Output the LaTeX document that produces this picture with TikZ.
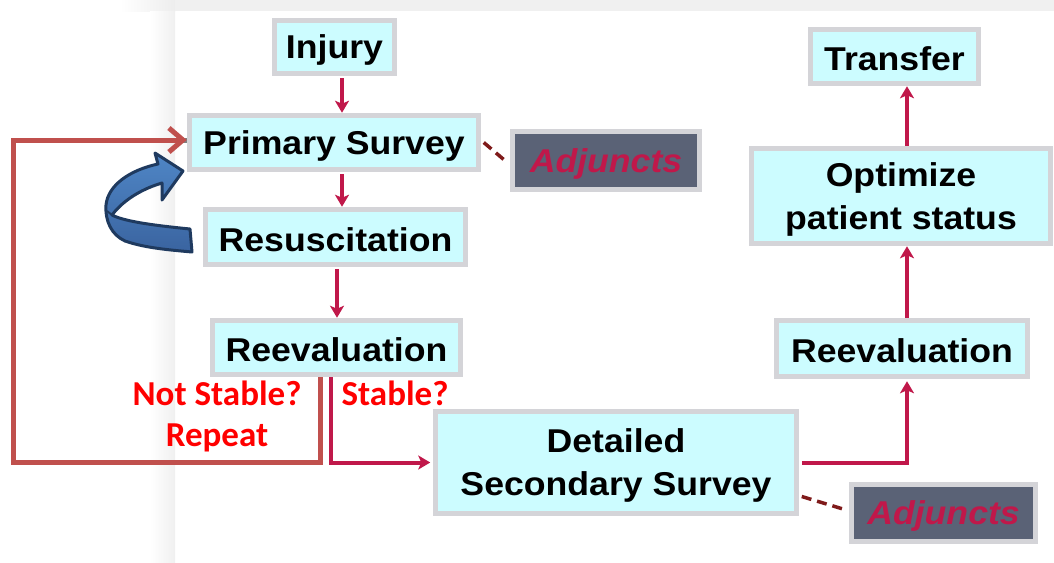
\documentclass[tikz,border=0pt]{standalone}
\usepackage{fontspec}
\setmainfont{Liberation Sans}[FakeStretch=1.08]
\newfontfamily\lblfont{Carlito}
\usetikzlibrary{arrows.meta,calc}
\definecolor{boxfill}{HTML}{CCFCFF}
\definecolor{boxline}{HTML}{D4D4D8}
\definecolor{crim}{HTML}{C0184A}
\definecolor{adjfill}{HTML}{5A6276}
\definecolor{loopred}{HTML}{C0504D}
\definecolor{dashred}{HTML}{7F1A1A}
\definecolor{bluefill}{HTML}{4F86C6}
\definecolor{bluedark}{HTML}{3A64A0}
\definecolor{navy}{HTML}{1F3A5F}
\newcommand\bstrut{\rule[-2pt]{0pt}{32pt}}
\tikzset{
  stepbox/.style={draw=boxline, fill=boxfill, line width=5.5pt, inner sep=0pt,
    font=\fontsize{33}{43}\selectfont\bfseries, align=center, text=black},
  adjbox/.style={draw=boxline, fill=adjfill, line width=5.5pt, inner sep=0pt,
    font=\fontsize{33}{43}\selectfont\bfseries\itshape, text=crim},
  flow/.style={draw=crim, line width=4pt, -{Stealth[length=12pt,width=14pt,inset=3pt]}},
  dashlink/.style={draw=dashred, line width=3.5pt, dash pattern=on 10pt off 6pt},
  lbl/.style={font=\fontsize{35}{40}\selectfont\lblfont\bfseries, text=red},
}
\begin{document}
\begin{tikzpicture}[x=1pt,y=-1pt]
\useasboundingbox (0,0) rectangle (1054,562);
% background frame
\shade[left color=white, right color=black!7] (120,0) rectangle (175,11);
\fill[black!6] (175,0) rectangle (1054,11);
\shade[left color=white, right color=black!6] (150,11) rectangle (175,562);

% nodes
\node[stepbox, minimum width=120pt, minimum height=53pt] (injury) at (334.5,47) {\bstrut Injury};
\node[stepbox, minimum width=289pt, minimum height=54pt] (primary) at (334,142.5) {\bstrut Primary Survey};
\node[stepbox, minimum width=260pt, minimum height=55pt] (resus) at (335.5,237) {\bstrut Resuscitation};
\node[stepbox, minimum width=248pt, minimum height=54pt] (reevalL) at (336.5,347.5) {\bstrut Reevaluation};
\node[adjbox, minimum width=187pt, minimum height=58pt] (adj1) at (606,160.5) {\bstrut Adjuncts};
\node[stepbox, minimum width=168pt, minimum height=54pt] (transfer) at (894.5,56.5) {\bstrut Transfer};
\node[stepbox, minimum width=299pt, minimum height=95pt] (optim) at (901,196) {\bstrut Optimize\\\bstrut patient status};
\node[stepbox, minimum width=251pt, minimum height=56pt] (reevalR) at (902,348.5) {\bstrut Reevaluation};
\node[stepbox, minimum width=361pt, minimum height=102pt] (detail) at (616,462.5) {\bstrut Detailed\\\bstrut Secondary Survey};
\node[adjbox, minimum width=184pt, minimum height=57pt] (adj2) at (943.5,513) {\bstrut Adjuncts};

% column coordinates
\coordinate (c1) at (342,0);
\coordinate (c2) at (337,0);
\coordinate (c3) at (331,0);
\coordinate (lx) at (320,0);
\coordinate (rx) at (907,0);
\coordinate (lb) at (320,462);
\coordinate (ll) at (13,462);

% red loop with shadow
\begin{scope}[shift={(1.5,2.5)}]
\draw[black!50, line width=5pt] (reevalL.south -| lx) -- (lb) -- (ll) |- ([yshift=2.5pt]primary.west);
\end{scope}
\draw[loopred, line width=5pt, -{Straight Barb[length=14pt,width=24pt,line width=5pt]}]
  (reevalL.south -| lx) -- (lb) -- (ll) |- ([yshift=2.5pt]primary.west);

% flow arrows
\draw[flow, shorten <=2pt] (injury.south -| c1) -- (primary.north -| c1);
\draw[flow, shorten <=2pt] (primary.south -| c1) -- (resus.north -| c1);
\draw[flow, shorten <=2pt] (resus.south -| c2) -- (reevalL.north -| c2);
\draw[flow] (reevalL.south -| c3) |- ([xshift=-2.5pt]detail.west);
\draw[flow, shorten >=2pt] ([xshift=2.5pt]detail.east) -| (reevalR.south -| rx);
\draw[flow] (reevalR.north -| rx) -- (optim.south -| rx);
\draw[flow] (optim.north -| rx) -- (transfer.south -| rx);

% dashed links
\draw[dashlink] ([xshift=2.5pt]primary.east) -- ([xshift=-2.5pt,yshift=-2pt]adj1.west);
\draw[dashlink] ([xshift=2.5pt,yshift=-34pt]detail.east) -- ([xshift=-2.5pt,yshift=3pt]adj2.west);

% labels
\node[lbl] (ns) at (217,393) {Not Stable?};
\node[lbl] (rp) at (217,438) {Repeat};
\node[lbl] (st) at (395,393) {Stable?};

% blue curved arrow
\draw[navy, line width=3pt, line join=round, top color=bluefill, bottom color=bluedark]
  (190,229) .. controls (160,226) and (125,222) .. (112,215)
  .. controls (125,198) and (145,188) .. (162,183)
  -- (162,200) -- (183,171) -- (155,153) -- (158,164)
  .. controls (130,170) and (108,185) .. (106,205)
  .. controls (105,222) and (112,235) .. (125,241)
  .. controls (145,248) and (170,250) .. (192,252) -- cycle;
\draw[navy, line width=2pt] (107,211) -- (112,215);
\end{tikzpicture}
\end{document}
